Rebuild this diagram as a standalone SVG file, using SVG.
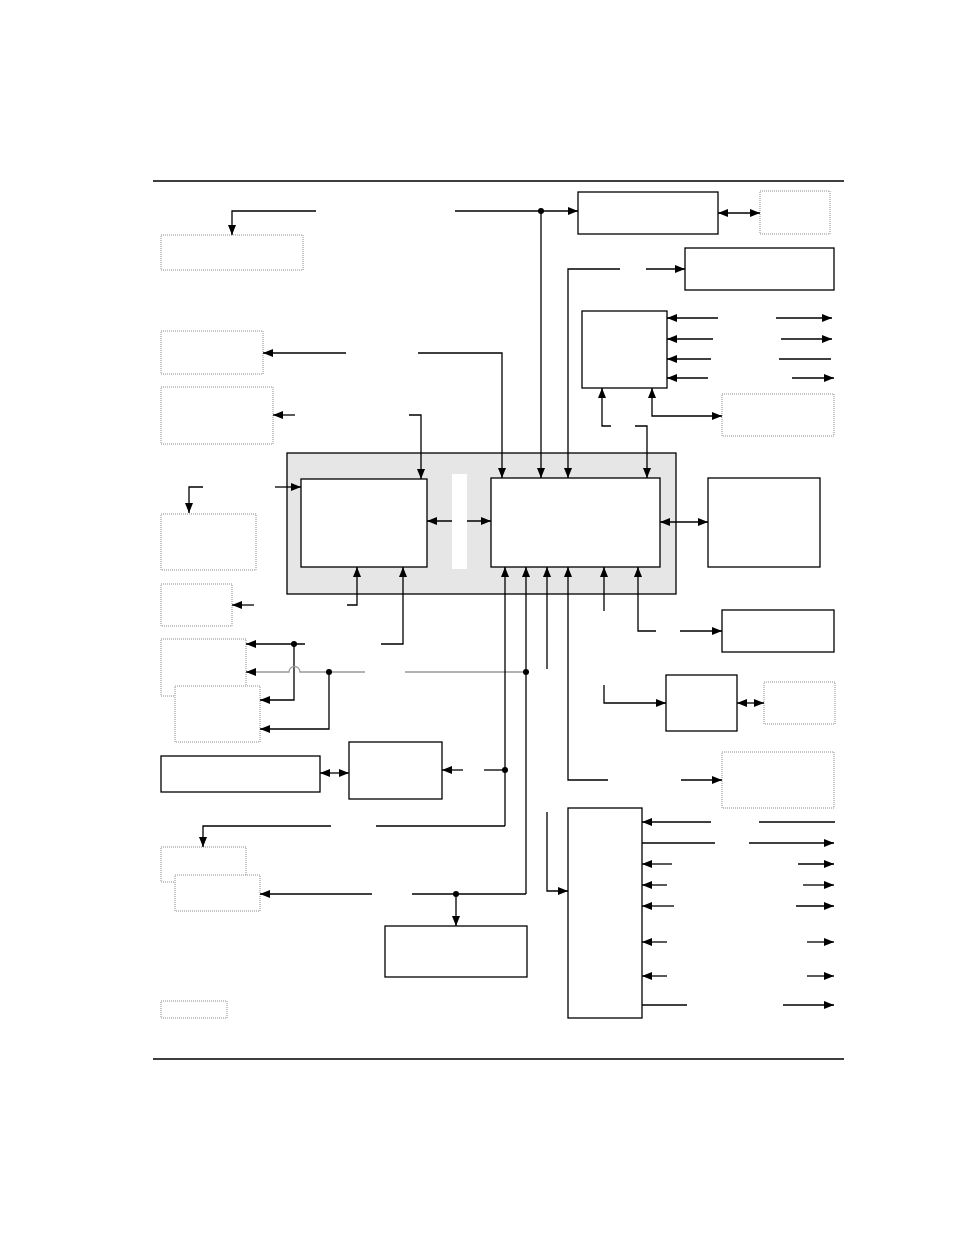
<svg xmlns="http://www.w3.org/2000/svg" width="954" height="1235" viewBox="0 0 954 1235">
<style>
.b{fill:#fff;stroke:#000;stroke-width:1.3}
.d{fill:#fff;stroke:#8c8c8c;stroke-width:1;stroke-dasharray:1 1}
.c{fill:none;stroke:#000;stroke-width:1.3}
.g{fill:none;stroke:#9a9a9a;stroke-width:1.3}
.e{marker-end:url(#ah)}
.s{marker-start:url(#ah)}
.dot{fill:#000}
</style>
<defs>
<marker id="ah" viewBox="0 0 10 8" refX="10" refY="4" markerWidth="10" markerHeight="8" markerUnits="userSpaceOnUse" orient="auto-start-reverse">
<path d="M0,0 L10,4 L0,8 z" fill="#000"/>
</marker>
</defs>
<rect width="954" height="1235" fill="#fff"/>
<g id="rules">
<path class="c" d="M153,181 H844 M153,1059 H844"/>
</g>
<g id="container"><rect x="287" y="453" width="389" height="141" fill="#e6e6e6" stroke="#000" stroke-width="1.3"/></g>
<g id="cpuLeft"><rect class="b" x="301" y="479" width="126" height="88"/></g>
<g id="cpuRight"><rect class="b" x="491" y="478" width="169" height="89"/></g>
<g id="boxA"><rect class="b" x="578" y="192" width="140" height="42"/></g>
<g id="boxB"><rect class="d" x="760" y="191" width="70" height="43"/></g>
<g id="boxC"><rect class="b" x="685" y="248" width="149" height="42"/></g>
<g id="boxD"><rect class="b" x="582" y="311" width="85" height="77"/></g>
<g id="boxE"><rect class="d" x="722" y="394" width="112" height="42"/></g>
<g id="boxK"><rect class="b" x="708" y="478" width="112" height="89"/></g>
<g id="boxL"><rect class="b" x="722" y="610" width="112" height="42"/></g>
<g id="boxM"><rect class="b" x="666" y="675" width="71" height="56"/></g>
<g id="boxN"><rect class="d" x="764" y="682" width="71" height="42"/></g>
<g id="boxO"><rect class="d" x="722" y="752" width="112" height="56"/></g>
<g id="boxP"><rect class="b" x="568" y="808" width="74" height="210"/></g>
<g id="box1"><rect class="d" x="161" y="235" width="142" height="35"/></g>
<g id="box2"><rect class="d" x="161" y="331" width="102" height="43"/></g>
<g id="box3"><rect class="d" x="161" y="387" width="112" height="57"/></g>
<g id="boxF"><rect class="d" x="161" y="514" width="95" height="56"/></g>
<g id="boxG"><rect class="d" x="161" y="584" width="71" height="42"/></g>
<g id="boxH"><rect class="d" x="161" y="639" width="85" height="57"/></g>
<g id="boxI"><rect class="d" x="175" y="686" width="85" height="56"/></g>
<g id="boxJ"><rect class="b" x="349" y="742" width="93" height="57"/></g>
<g id="boxQ"><rect class="b" x="161" y="756" width="159" height="36"/></g>
<g id="boxR"><rect class="d" x="161" y="847" width="85" height="35"/></g>
<g id="boxS"><rect class="d" x="175" y="875" width="85" height="36"/></g>
<g id="boxT"><rect class="b" x="385" y="926" width="142" height="51"/></g>
<g id="boxU"><rect class="d" x="161" y="1001" width="66" height="17"/></g>
<g id="connectors">
<path class="c e" d="M316,211 H232 V235"/>
<path class="c e" d="M455,211 H578"/>
<path class="c e" d="M541,211 V478"/>
<path class="c e" d="M346,353 H263"/>
<path class="c e" d="M418,353 H502 V478"/>
<path class="c e" d="M295,415 H273"/>
<path class="c e" d="M409,415 H421 V479"/>
<path class="c s e" d="M718,213 H760"/>
<path class="c e" d="M620,269 H568 V478"/>
<path class="c e" d="M646,269 H685"/>
<path class="c e" d="M718,318 H667"/>
<path class="c e" d="M776,318 H832"/>
<path class="c e" d="M713,339 H667"/>
<path class="c e" d="M781,339 H832"/>
<path class="c e" d="M711,359 H667"/>
<path class="c" d="M779,359 H831"/>
<path class="c e" d="M708,378 H667"/>
<path class="c e" d="M792,378 H834"/>
<path class="c e" d="M611,426 H602 V388"/>
<path class="c s e" d="M652,388 V416 H722"/>
<path class="c e" d="M635,426 H647 V478"/>
<path class="c s e" d="M427,521 H491"/>
<rect x="452" y="474" width="15" height="95" fill="#fff"/>
<path class="c e" d="M275,487 H301"/>
<path class="c e" d="M203,487 H189 V513"/>
<path class="c e" d="M254,605 H232"/>
<path class="c e" d="M347,605 H357 V567"/>
<path class="c e" d="M381,644 H403 V567"/>
<path class="c e" d="M305,644 H246"/>
<path class="c e" d="M294,644 V700 H260"/>
<path class="g" d="M365,672 H300 A5.5,5.5 0 0 0 289,672 H252"/>
<path class="c e" d="M254,672 H246"/>
<path class="g" d="M405,672 H526"/>
<path class="c e" d="M329,672 V729 H260"/>
<path class="c s e" d="M660,522 H708"/>
<path class="c e" d="M505,826 V567"/>
<path class="c" d="M505,826 H376"/>
<path class="c e" d="M331,826 H203 V847"/>
<path class="c" d="M484,770 H505"/>
<path class="c e" d="M463,770 H442"/>
<path class="c s e" d="M320,773 H349"/>
<path class="c e" d="M526,894 V567"/>
<path class="c" d="M526,894 H412"/>
<path class="c e" d="M372,894 H260"/>
<path class="c e" d="M456,894 V926"/>
<path class="c e" d="M547,669 V567"/>
<path class="c e" d="M608,780 H568 V567"/>
<path class="c e" d="M681,780 H722"/>
<path class="c e" d="M604,611 V567"/>
<path class="c e" d="M656,631 H638 V567"/>
<path class="c e" d="M680,631 H722"/>
<path class="c e" d="M604,685 V703 H666"/>
<path class="c s e" d="M737,703 H764"/>
<path class="c e" d="M547,812 V891 H568"/>
<path class="c e" d="M711,822 H642"/>
<path class="c" d="M759,822 H835"/>
<path class="c" d="M642,843 H715"/>
<path class="c e" d="M749,843 H834"/>
<path class="c e" d="M672,864 H642"/>
<path class="c e" d="M798,864 H834"/>
<path class="c e" d="M667,885 H642"/>
<path class="c e" d="M803,885 H834"/>
<path class="c e" d="M674,906 H642"/>
<path class="c e" d="M796,906 H834"/>
<path class="c e" d="M667,942 H642"/>
<path class="c e" d="M807,942 H834"/>
<path class="c e" d="M667,976 H642"/>
<path class="c e" d="M807,976 H834"/>
<path class="c" d="M642,1005 H687"/>
<path class="c e" d="M783,1005 H834"/>
<circle class="dot" cx="541" cy="211" r="3"/>
<circle class="dot" cx="294" cy="644" r="3"/>
<circle class="dot" cx="329" cy="672" r="3"/>
<circle class="dot" cx="526" cy="672" r="3"/>
<circle class="dot" cx="505" cy="770" r="3"/>
<circle class="dot" cx="456" cy="894" r="3"/>
</g>
</svg>
